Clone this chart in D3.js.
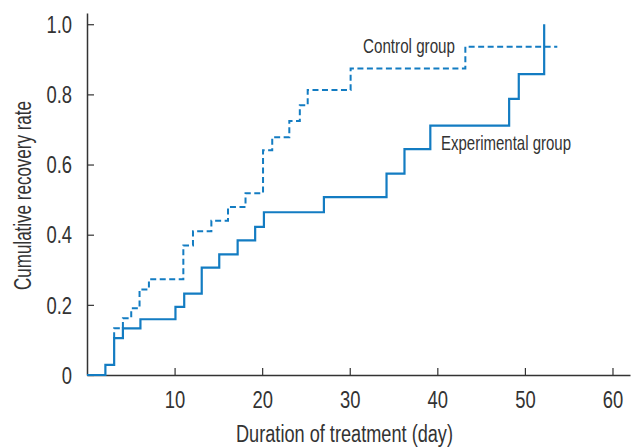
<!DOCTYPE html>
<html>
<head>
<meta charset="utf-8">
<script src="https://cdn.jsdelivr.net/npm/d3@7"></script>
<style>
  body { margin: 0; background: #fff; }
  svg text { font-family: "Liberation Sans", Arial, sans-serif; fill: #333; }
</style>
</head>
<body>
<svg id="chart" width="635" height="448"></svg>
<script>
// step points (day, cumulative rate)
var expDays = [0, 2.1, 3.1, 4.1, 6.1, 10.1, 11.1, 13.1, 15.1, 17.2, 19.2, 20.2, 27.05, 34.2, 36.25, 39.2, 48.2, 49.3, 52.2]
var expRate = [0, 0.029, 0.105, 0.133, 0.159, 0.194, 0.232, 0.306, 0.344, 0.384, 0.422, 0.464, 0.507, 0.574, 0.644, 0.711, 0.787, 0.858, 1.0]

// control drawn from where it leaves the experimental line
var ctrlDays = [3.1, 3.1, 4.1, 5.05, 6.0, 7.07, 11.0, 12.1, 14.2, 16.1, 18.1, 20.1, 21.15, 23.1, 24.3, 25.2, 30.1, 43.2, 53.7]
var ctrlRate = [0.105, 0.133, 0.162, 0.19, 0.244, 0.273, 0.369, 0.41, 0.44, 0.479, 0.518, 0.641, 0.678, 0.724, 0.769, 0.8125, 0.874, 0.936, 0.936]

var xTicks = [10, 20, 30, 40, 50, 60]
var yTicks = [0, 0.2, 0.4, 0.6, 0.8, 1.0]

var blue = '#137cc2'
var svg = d3.select('#chart')

// squeeze text horizontally, the reference uses a condensed face
function condense(sel, factor) {
    sel.each(function() {
        var w = this.getComputedTextLength()
        d3.select(this).attr('textLength', w * factor).attr('lengthAdjust', 'spacingAndGlyphs')
    })
}
function fitWidth(sel, w) {
    sel.attr('textLength', w).attr('lengthAdjust', 'spacingAndGlyphs')
}

var x = d3.scaleLinear().domain([0, 62]).range([87, 630])
var y = d3.scaleLinear().domain([0, 1.032]).range([375, 13])

// axes
var xAxis = svg.append('g')
    .attr('transform', 'translate(0,' + y(0) + ')')
    .call(d3.axisBottom(x).tickValues(xTicks).tickSize(-7).tickSizeOuter(0))
xAxis.select('.domain').attr('stroke', '#333').attr('stroke-width', 1.5)
xAxis.selectAll('.tick line').attr('stroke', '#333').attr('stroke-width', 1.2)
xAxis.selectAll('.tick text')
    .attr('y', 33).attr('dy', 0)
    .attr('fill', '#333')
    .style('font-size', '23px')
    .call(condense, 0.8)

var yAxis = svg.append('g')
    .attr('transform', 'translate(' + x(0) + ',0)')
    .call(d3.axisLeft(y).tickValues(yTicks).tickSize(-7).tickSizeOuter(0)
        .tickFormat(function(d) { return d === 0 ? '0' : d3.format('.1f')(d) }))
yAxis.select('.domain').attr('stroke', '#333').attr('stroke-width', 1.5)
yAxis.selectAll('.tick line').attr('stroke', '#333').attr('stroke-width', 1.2)
yAxis.selectAll('.tick text')
    .attr('x', -15).attr('dy', '0.36em')
    .attr('fill', '#333')
    .style('font-size', '23px')
    .call(condense, 0.8)

// step lines
var line = d3.line()
    .x(function(d) { return x(d[0]) })
    .y(function(d) { return y(d[1]) })
    .curve(d3.curveStepAfter)

svg.append('path')
    .datum(d3.zip(ctrlDays, ctrlRate))
    .attr('d', line)
    .attr('fill', 'none')
    .attr('stroke', blue)
    .attr('stroke-width', 2)
    .attr('stroke-dasharray', '6,3.5')

svg.append('path')
    .datum(d3.zip(expDays, expRate))
    .attr('d', line)
    .attr('fill', 'none')
    .attr('stroke', blue)
    .attr('stroke-width', 2.2)

// labels
svg.append('text')
    .attr('x', 363).attr('y', 53)
    .style('font-size', '21px')
    .text('Control group')
    .call(fitWidth, 92)

svg.append('text')
    .attr('x', 441).attr('y', 150)
    .style('font-size', '21px')
    .text('Experimental group')
    .call(fitWidth, 130)

svg.append('text')
    .attr('x', 236).attr('y', 442)
    .style('font-size', '23px')
    .text('Duration of treatment (day)')
    .call(fitWidth, 217)

svg.append('text')
    .attr('transform', 'translate(31,290) rotate(-90)')
    .style('font-size', '23px')
    .text('Cumulative recovery rate')
    .call(fitWidth, 189)
</script>
</body>
</html>
